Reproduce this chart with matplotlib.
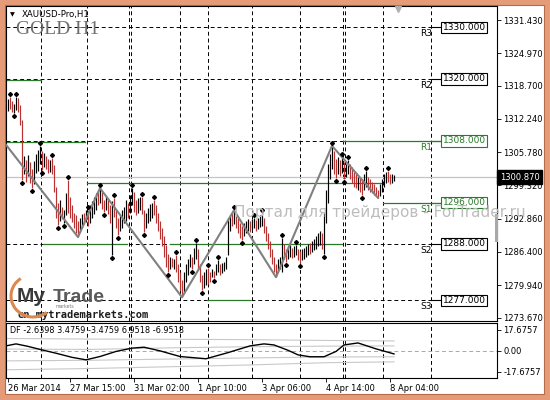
import matplotlib
matplotlib.use("Agg")
import matplotlib.pyplot as plt
import matplotlib.patches as patches
import matplotlib.transforms as mtransforms

# ---- XAUUSD H1 bars (index 0 = 26 Mar 2014 morning) ----
highs = [1316.0, 1316.5, 1315.8, 1315.2, 1316.5, 1316.2, 1315.0, 1312.0, 1305.0, 1304.2,
         1305.2, 1303.8, 1302.5, 1304.0, 1305.5, 1306.2, 1307.0, 1306.0, 1305.6, 1305.0,
         1304.5, 1304.2, 1304.6, 1303.2, 1299.0, 1296.0, 1296.5, 1295.2, 1294.6, 1297.8,
         1300.4, 1297.0, 1295.5, 1294.0, 1293.5, 1292.5, 1293.0, 1293.8, 1294.0, 1294.6,
         1294.5, 1295.5, 1296.2, 1297.0, 1297.8, 1298.2, 1298.8, 1298.0, 1296.5, 1297.2,
         1296.8, 1295.5, 1296.3, 1296.9, 1294.5, 1293.0, 1293.5, 1294.5, 1295.2, 1296.5,
         1296.0, 1297.5, 1298.8, 1298.0, 1296.5, 1296.8, 1297.0, 1297.0, 1294.5, 1294.0,
         1295.0, 1295.8, 1296.0, 1296.5, 1295.5, 1294.0, 1292.5, 1291.0, 1289.5, 1287.8,
         1286.0, 1285.5, 1285.2, 1285.0, 1285.8, 1284.0, 1282.5, 1281.0, 1282.5, 1284.0,
         1285.0, 1286.0, 1285.5, 1287.2, 1288.1, 1287.0, 1284.0, 1282.0, 1282.5, 1283.0,
         1283.3, 1282.5, 1283.0, 1282.8, 1284.0, 1284.8, 1284.0, 1284.2, 1284.5, 1285.5,
         1293.0, 1293.5, 1294.0, 1294.5, 1294.0, 1293.0, 1292.0, 1291.5, 1292.0, 1292.5,
         1292.8, 1292.5, 1292.8, 1293.0, 1292.6, 1293.0, 1293.5, 1293.9, 1293.0, 1291.5,
         1290.0, 1288.5, 1287.0, 1285.5, 1284.0, 1285.0, 1285.5, 1289.1, 1288.0, 1287.0,
         1287.5, 1287.8, 1287.2, 1287.5, 1287.7, 1287.0, 1286.5, 1287.0, 1287.2, 1287.5,
         1288.0, 1288.2, 1288.5, 1289.0, 1289.5, 1290.0, 1290.5, 1290.0, 1294.0, 1298.5,
         1303.5, 1305.5, 1307.0, 1306.0, 1304.5, 1304.8, 1304.2, 1304.8, 1303.8, 1303.5,
         1304.2, 1303.5, 1302.8, 1302.0, 1301.5, 1301.0, 1300.8, 1300.5, 1301.5, 1302.1,
         1301.0, 1300.5, 1300.0, 1299.5, 1299.0, 1298.5, 1299.5, 1300.5, 1301.5, 1302.0,
         1302.1, 1301.5, 1301.5, 1301.3]
lows = [1313.8, 1314.2, 1313.6, 1313.4, 1314.0, 1313.5, 1311.0, 1300.4, 1301.5, 1300.0,
        1301.2, 1299.8, 1298.8, 1299.5, 1301.8, 1302.2, 1303.5, 1302.4, 1302.8, 1302.6,
        1301.8, 1302.0, 1301.5, 1298.0, 1293.0, 1291.6, 1292.5, 1292.8, 1292.0, 1293.5,
        1294.0, 1293.0, 1292.2, 1291.0, 1290.0, 1289.3, 1290.2, 1291.0, 1291.8, 1292.2,
        1291.5, 1292.0, 1293.0, 1293.8, 1294.5, 1295.5, 1296.0, 1294.8, 1294.1, 1294.5,
        1293.8, 1292.0, 1285.8, 1293.2, 1291.0, 1289.7, 1290.5, 1291.0, 1292.0, 1292.5,
        1293.0, 1294.0, 1295.5, 1294.2, 1293.5, 1294.0, 1294.5, 1293.8, 1290.3, 1291.0,
        1292.0, 1292.5, 1293.0, 1293.5, 1292.0, 1290.5, 1289.0, 1287.5, 1285.5, 1283.5,
        1282.5, 1283.0, 1283.5, 1283.0, 1282.5, 1280.5, 1279.0, 1277.6, 1278.5, 1280.5,
        1282.0, 1283.5, 1283.1, 1284.0, 1285.0, 1283.0, 1280.5, 1279.0, 1279.5, 1280.0,
        1280.2, 1280.5, 1281.5, 1281.3, 1282.0, 1282.5, 1282.0, 1282.3, 1282.8, 1283.0,
        1285.8, 1290.5, 1291.5, 1291.8, 1291.0, 1290.0, 1289.2, 1288.7, 1289.5, 1290.0,
        1290.5, 1290.2, 1290.8, 1291.0, 1290.5, 1290.8, 1291.2, 1291.5, 1290.0, 1288.5,
        1287.0, 1285.5, 1284.0, 1282.5, 1281.5, 1282.5, 1283.0, 1282.5, 1285.0, 1284.4,
        1285.0, 1285.5, 1285.2, 1285.5, 1285.8, 1284.8, 1284.2, 1284.8, 1285.0, 1285.5,
        1285.8, 1286.0, 1286.3, 1286.8, 1287.0, 1287.5, 1287.8, 1287.0, 1286.0, 1292.0,
        1296.0, 1300.5, 1302.5, 1301.5, 1300.7, 1301.5, 1301.2, 1301.8, 1300.6, 1301.0,
        1301.5, 1300.5, 1299.8, 1299.0, 1298.8, 1298.5, 1298.0, 1297.5, 1298.5, 1299.0,
        1298.5, 1298.0, 1297.8, 1297.5, 1297.2, 1296.9, 1297.2, 1298.0, 1299.0, 1299.8,
        1300.0, 1299.5, 1299.8, 1300.2]
# u = up bar (black), d = down bar (red)
bar_dir = ("udduudddud" "udduuuudud" "dudddduduu" "dddddduudu" "duuuududdu"
           "dduddduuuu" "duudduuddu" "uuuddddddd" "dududddduu" "uuduuddduu"
           "dduduuduuu" "uududddduu" "uduuduuudd" "ddddduuudd" "uuduudduuu"
           "uduuuuuduu" "uuuddududu" "uddddudduu" "dddddduuuu" "dduu")
bid = 1300.87

frac_up = [1, 4, 16, 22, 30, 40, 46, 53, 62, 67, 73, 84, 94, 100, 105, 113, 123,
           127, 137, 144, 162, 167, 170, 179, 190]
frac_dn = [3, 7, 12, 17, 25, 28, 48, 52, 55, 68, 80, 92, 97, 103, 117, 139, 146,
           158, 164, 168, 177]

zz_idx = [-1, 35, 46, 87, 113, 134, 162, 185]
zz_px = [1307.2, 1289.3, 1298.8, 1277.6, 1294.5, 1281.5, 1307.0, 1296.9]

# pivot levels for 8 Apr
level_names = ["R3", "R2", "R1", "S1", "S2", "S3"]
level_vals = [1330.0, 1320.0, 1308.0, 1296.0, 1288.0, 1277.0]
dashed_levels = [1330.0, 1320.0, 1308.0, 1288.0, 1277.0]
# earlier daily pivot segments (level, from bar, to bar)
seg_level = [1319.7, 1307.8, 1299.8, 1288.0, 1288.0, 1277.0, 1308.0, 1296.0]
seg_start = [-1, -1, 39.5, 17.5, 81, 99.5, 167.5, 187.5]
seg_end = [16.5, 38.5, 187, 59.5, 167, 121, 216, 216]

day_sep = [16.5, 39.5, 60.5, 61.5, 86, 100, 122, 146, 167.5, 168.5, 187.5, 211.5]

price_ticks = [1331.43, 1324.97, 1318.70, 1312.24, 1305.78, 1299.32, 1292.86,
               1286.40, 1279.94, 1273.67]
time_idx = [0, 31, 63, 95, 127, 159, 191]
time_labels = ["26 Mar 2014", "27 Mar 15:00", "31 Mar 02:00", "1 Apr 10:00",
               "3 Apr 06:00", "4 Apr 14:00", "8 Apr 04:00"]

# DF oscillator and its bands
df_idx = [-1, 4, 10, 17, 24, 32, 39, 46, 54, 62, 68, 76, 86, 99, 110, 121, 128,
          133, 140, 145, 151, 158, 164, 168, 175, 184, 193]
df_val = [4.2, 5.9, 3.8, 0.8, -2.0, -5.5, -7.6, -4.8, -0.5, 2.3, 3.1, 0.0, -4.8,
          -6.7, -1.5, 4.2, 5.9, 5.0, 0.5, -3.4, -5.0, -5.0, -0.5, 5.0, 6.7, 1.7, -2.6]
band_idx = [-1, 40, 80, 120, 160, 193]
band_up2 = [10.5, 10.0, 9.8, 9.5, 8.8, 8.4]
band_up1 = [1.5, 1.2, 2.5, 3.5, 4.0, 4.2]
band_dn1 = [-8.5, -8.0, -7.0, -6.0, -5.2, -5.0]
band_dn2 = [-16.0, -15.0, -13.5, -12.0, -10.0, -9.3]

RED = '#b83232'
GREEN = '#2a7a2a'
DASH = (0, (4, 3))
W, H = 550, 400


def px_box(x0, y0, x1, y1):
    return [x0 / W, 1 - y1 / H, (x1 - x0) / W, (y1 - y0) / H]


fig = plt.figure(figsize=(5.5, 4), dpi=100)
fig.patch.set_facecolor('#e59a78')

bg = fig.add_axes([0, 0, 1, 1], zorder=-5)
bg.set_xlim(0, W)
bg.set_ylim(H, 0)
bg.axis('off')
bg.add_patch(patches.Rectangle((4.5, 4.5), 539, 389, facecolor='white',
                               edgecolor='#b86a4a', lw=0.8))

ax = fig.add_axes(px_box(6, 6, 497, 321))
axi = fig.add_axes(px_box(6, 323, 497, 378), sharex=ax)

# price bars
idx = list(range(len(highs)))
cols = [RED if d == 'd' else 'black' for d in bar_dir]
ax.vlines(idx, lows, highs, colors=cols, lw=0.85, zorder=4)

up_off = mtransforms.offset_copy(ax.transData, fig=fig, x=0, y=3, units='dots')
dn_off = mtransforms.offset_copy(ax.transData, fig=fig, x=0, y=-3, units='dots')
ax.plot(frac_up, [highs[i] for i in frac_up], 'D', ms=2.0, color='black',
        transform=up_off, zorder=6)
ax.plot(frac_dn, [lows[i] for i in frac_dn], 'D', ms=2.0, color='black',
        transform=dn_off, zorder=6)

ax.plot(zz_idx, zz_px, color='#808080', lw=1.5, zorder=5)
ax.axhline(bid, color='#c4c4c4', lw=0.9, zorder=2)

for lv in dashed_levels:
    ax.plot([-1, 212], [lv, lv], color='black', lw=0.7, ls=DASH, zorder=2)
for lv, s, e in zip(seg_level, seg_start, seg_end):
    ax.plot([s, e], [lv, lv], color=GREEN, lw=0.9, zorder=2.5)

for name, lv in zip(level_names, level_vals):
    c = GREEN if name in ("R1", "S1") else 'black'
    ax.plot([212, 217], [lv, lv], color=c, lw=0.8, zorder=3)
    ax.text(217.3, lv, f"{lv:.3f}", fontsize=6.5, color=c, va='center', ha='left',
            bbox=dict(boxstyle='square,pad=0.15', fc='white', ec=c, lw=0.8), zorder=8)
    ax.annotate(name, (212, lv), xytext=(0, -1.5), textcoords='offset points',
                ha='right', va='top', fontsize=6.5, color=c, zorder=8)

for s in day_sep:
    ax.axvline(s, color='black', lw=0.7, ls=DASH, zorder=1)
    axi.axvline(s, color='black', lw=0.7, ls=DASH, zorder=1)

ax.set_xlim(-1, 244.5)
ax.set_ylim(1273.0, 1334.15)
ax.yaxis.tick_right()
ax.set_yticks(price_ticks)
ax.set_yticklabels([f"{v:.3f}" for v in price_ticks])
ax.tick_params(axis='y', length=3, width=0.6, pad=1.5, labelsize=6)
ax.tick_params(axis='x', bottom=False, labelbottom=False)

tr = mtransforms.blended_transform_factory(ax.transAxes, ax.transData)
ax.text(1.006, bid, f"{bid:.3f}", transform=tr, fontsize=6, color='white',
        va='center', ha='left', zorder=10, clip_on=False,
        bbox=dict(boxstyle='square,pad=0.3', fc='black', ec='black'))

# indicator panel
for b in (band_up2, band_up1, band_dn1, band_dn2):
    axi.plot(band_idx, b, color='#c8c8c8', lw=0.8)
axi.axhline(0, color='#a8a8a8', lw=0.7, ls=DASH)
axi.plot(df_idx, df_val, color='black', lw=1.0)
axi.set_ylim(-23.0, 23.6)
axi.yaxis.tick_right()
axi.set_yticks([17.6757, 0, -17.6757])
axi.set_yticklabels(["17.6757", "0.00", "-17.6757"])
axi.tick_params(axis='y', length=3, width=0.6, pad=1.5, labelsize=6)
axi.set_xticks(time_idx)
axi.set_xticklabels(time_labels, ha='left')
axi.tick_params(axis='x', length=3, width=0.6, pad=1.5, labelsize=6)
axi.text(0.008, 0.95, "DF -2.6398 3.4759 -3.4759 6.9518 -6.9518",
         transform=axi.transAxes, fontsize=5.9, va='top')

for a in (ax, axi):
    for sp in a.spines.values():
        sp.set_linewidth(0.8)

# captions and watermarks
fig.text(10 / W, 1 - 15 / H, "▼", fontsize=4.5, va='center')
fig.text(22 / W, 1 - 15 / H, "XAUUSD-Pro,H1", fontsize=6.2, va='center')
fig.text(16 / W, 1 - 21 / H, "GOLD H1", family='Liberation Serif', fontsize=14,
         color='#6e6e6e', va='top')
fig.text(234 / W, 1 - 213 / H, "Портал для трейдеров - ForTrader.ru", fontsize=11,
         color='#bdbdbd', va='center', zorder=20)

fig.text(17 / W, 1 - 302 / H, "My", family='Liberation Sans', weight='bold',
         fontsize=15, color='#3a3a3a', va='baseline')
fig.text(53 / W, 1 - 302 / H, "Trade", family='Liberation Sans', weight='bold',
         fontsize=14, color='#5a5a5a', va='baseline')
fig.text(56 / W, 1 - 308.5 / H, "markets", fontsize=3.3, color='#777777',
         va='baseline')
fig.text(18 / W, 1 - 318 / H, "en.mytrademarkets.com", family='DejaVu Sans Mono',
         weight='bold', fontsize=7.5, color='#1e1e1e', va='baseline')

fg = fig.add_axes([0, 0, 1, 1], zorder=10)
fg.set_xlim(0, W)
fg.set_ylim(H, 0)
fg.axis('off')
fg.add_patch(patches.Arc((33, 296), 44, 42, theta1=50, theta2=235,
                         color='#d9894f', lw=2.2))
fg.add_patch(patches.Rectangle((495, 214), 3, 28, fc='#a8a8a8', ec='none'))
fg.plot(398, 9, marker='v', ms=5, color='#b0b0b0')

fig.savefig("out.png", dpi=100)
